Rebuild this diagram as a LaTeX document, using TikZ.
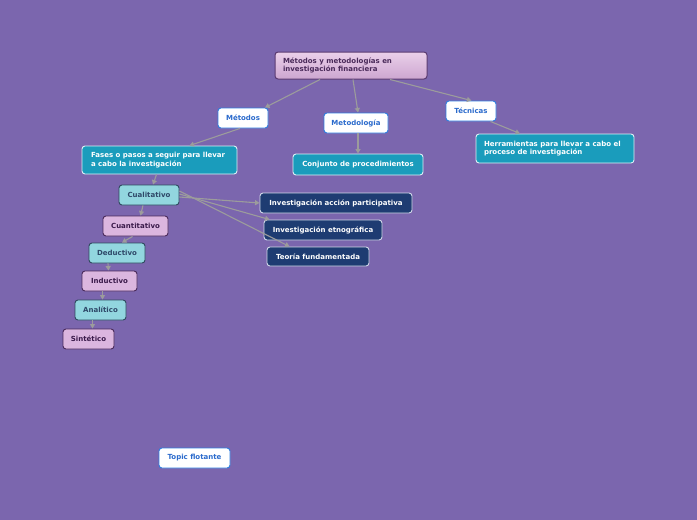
\documentclass[tikz,border=0pt]{standalone}
\usepackage{fontspec}
\setmainfont{DejaVu Sans}
\usetikzlibrary{arrows.meta}
\definecolor{bgc}{HTML}{7B66AE}
\definecolor{linec}{HTML}{9C9C9C}
\definecolor{roottop}{HTML}{EAD0EA}
\definecolor{rootbot}{HTML}{CDA6D0}
\definecolor{rootbd}{HTML}{5A3A70}
\definecolor{roottx}{HTML}{4A2A5A}
\definecolor{bluebd}{HTML}{2F7FE0}
\definecolor{bluetx}{HTML}{2A6ACC}
\definecolor{tealf}{HTML}{1A9CBC}
\definecolor{cyanf}{HTML}{92D6DF}
\definecolor{cyanbd}{HTML}{2E4A5E}
\definecolor{cyantx}{HTML}{2E4868}
\definecolor{lilacf}{HTML}{DBB6DF}
\definecolor{lilacbd}{HTML}{4A2A5A}
\definecolor{lilactx}{HTML}{3A1A4A}
\definecolor{navyf}{HTML}{1E3C72}
\definecolor{navybd}{HTML}{D0D8E8}
\tikzset{
  box/.style={rounded corners=3pt, line width=0.9pt, inner sep=0pt, font=\bfseries\fontsize{7}{8.2}\selectfont},
  rootbox/.style={box, draw=rootbd, top color=roottop, bottom color=rootbot, text=roottx, line width=1pt},
  whitebox/.style={box, draw=bluebd, fill=white, text=bluetx},
  tealbox/.style={box, draw=white!85!tealf, fill=tealf, text=white},
  cyanbox/.style={box, draw=cyanbd, fill=cyanf, text=cyantx},
  lilacbox/.style={box, draw=lilacbd, fill=lilacf, text=lilactx},
  navybox/.style={box, draw=navybd, fill=navyf, text=white},
  conn/.style={draw=linec, line width=1.1pt, -{Triangle[width=5pt,length=4.5pt]}},
}
\begin{document}
\begin{tikzpicture}[x=1pt,y=-1pt]
\fill[bgc] (0,0) rectangle (697,520);
\useasboundingbox (0,0) rectangle (697,520);

\node[rootbox, minimum width=152pt, minimum height=27pt] (root) at (351,65.5)
  {\parbox{136pt}{Métodos y metodologías en\\investigación financiera}};
\node[whitebox, minimum width=50pt, minimum height=20pt] (metodos) at (243,118) {Métodos};
\node[whitebox, minimum width=64pt, minimum height=20pt] (metodologia) at (356,123) {Metodología};
\node[whitebox, minimum width=50pt, minimum height=20pt] (tecnicas) at (471,111) {Técnicas};

\node[tealbox, minimum width=155pt, minimum height=28pt] (fases) at (159.5,160)
  {\parbox{137pt}{Fases o pasos a seguir para llevar\\a cabo la investigación}};
\node[tealbox, minimum width=130pt, minimum height=21pt] (conjunto) at (358,164.5) {Conjunto de procedimientos};
\node[tealbox, minimum width=158pt, minimum height=29pt] (herr) at (555,148.5)
  {\parbox{142pt}{Herramientas para llevar a cabo el\\proceso de investigación}};

\node[cyanbox, minimum width=60pt, minimum height=20pt] (cual) at (149,195) {Cualitativo};
\node[lilacbox, minimum width=65pt, minimum height=20pt] (cuant) at (135.5,226) {Cuantitativo};
\node[cyanbox, minimum width=56pt, minimum height=20pt] (deduc) at (117,253) {Deductivo};
\node[lilacbox, minimum width=55pt, minimum height=20pt] (induc) at (109.5,281) {Inductivo};
\node[cyanbox, minimum width=51pt, minimum height=20pt] (anal) at (100.5,310) {Analítico};
\node[lilacbox, minimum width=51pt, minimum height=20pt] (sint) at (88.5,339) {Sintético};

\node[navybox, minimum width=152pt, minimum height=20pt] (iap) at (336,203) {Investigación acción participativa};
\node[navybox, minimum width=118pt, minimum height=20pt] (etno) at (323,230) {Investigación etnográfica};
\node[navybox, minimum width=102pt, minimum height=19pt] (teoria) at (318,256.5) {Teoría fundamentada};

\node[whitebox, minimum width=71pt, minimum height=20pt] (topic) at (194.5,458) {Topic flotante};

\draw[conn] ([xshift=-31pt]root.south) -- ([xshift=22pt]metodos.north);
\draw[conn] ([xshift=2pt]root.south) -- ([xshift=2pt]metodologia.north);
\draw[conn] ([xshift=39pt]root.south) -- ([xshift=-25pt]tecnicas.north east);
\draw[conn] ([xshift=-3pt]metodos.south) -- ([xshift=30pt]fases.north);
\draw[conn] ([xshift=2pt]metodologia.south) -- (conjunto.north);
\draw[conn] ([xshift=-6pt]tecnicas.south east) -- ([xshift=-35pt]herr.north);
\draw[conn] ([xshift=-3pt]fases.south) -- ([xshift=4pt]cual.north);
\draw[conn] ([xshift=-6pt]cual.south) -- ([xshift=5pt]cuant.north);
\draw[conn] ([yshift=-2pt]cual.east) -- (iap.west);
\draw[conn] ([yshift=1pt]cual.east) -- ([xshift=6pt]etno.north west);
\draw[conn] ([yshift=4pt]cual.east) -- ([xshift=23pt]teoria.north west);
\draw[conn] ([xshift=-3pt]cuant.south) -- ([xshift=5pt]deduc.north);
\draw[conn] ([xshift=-9pt]deduc.south) -- ([xshift=-1pt]induc.north);
\draw[conn] ([xshift=-7pt]induc.south) -- ([xshift=2pt]anal.north);
\draw[conn] ([xshift=-8pt]anal.south) -- ([xshift=4pt]sint.north);
\end{tikzpicture}
\end{document}
